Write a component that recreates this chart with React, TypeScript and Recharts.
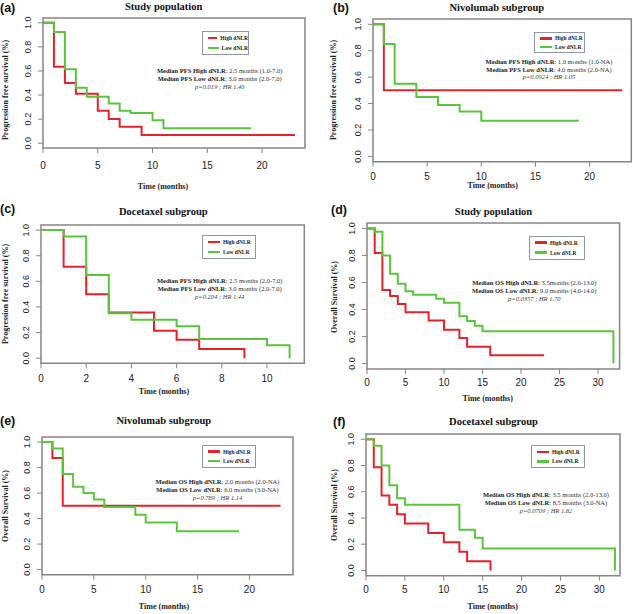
import React from "react";
import { Legend, Line, LineChart, ReferenceArea, XAxis, YAxis } from "recharts";

const RED = "#e2232c";
const GREEN = "#5cc43f";
const BOX = "#858585";
const SERIF = "'Liberation Serif', 'Times New Roman', serif";
const SANS = "'Liberation Sans', Arial, sans-serif";

// (a) PFS, study population
const pfsAllHighTime = [0, 1, 2, 3, 5, 6, 7, 9, 23];
const pfsAllHighSurv = [1, 0.636, 0.5, 0.41, 0.27, 0.2, 0.136, 0.068, 0.068];
const pfsAllLowTime = [0, 1, 2, 3, 4, 6, 7, 8, 10, 11, 19];
const pfsAllLowSurv = [1, 0.923, 0.615, 0.46, 0.385, 0.33, 0.27, 0.25, 0.19, 0.125, 0.125];

// (b) PFS, nivolumab
const pfsNivoHighTime = [0, 1, 23];
const pfsNivoHighSurv = [1, 0.5, 0.5];
const pfsNivoLowTime = [0, 1, 2, 4, 6, 8, 10, 19];
const pfsNivoLowSurv = [1, 0.85, 0.55, 0.45, 0.39, 0.34, 0.27, 0.27];

// (c) PFS, docetaxel
const pfsDoceHighTime = [0, 1, 2, 3, 5, 6, 7, 9];
const pfsDoceHighSurv = [1, 0.714, 0.5, 0.357, 0.214, 0.143, 0.071, 0];
const pfsDoceLowTime = [0, 1, 2, 3, 4, 6, 7, 10, 11];
const pfsDoceLowSurv = [1, 0.95, 0.65, 0.35, 0.3, 0.25, 0.15, 0.1, 0];

// (d) OS, study population
const osAllHighTime = [0, 1, 2, 3, 4, 5, 8, 10, 12, 13, 16, 23];
const osAllHighSurv = [1, 0.818, 0.545, 0.5, 0.44, 0.38, 0.318, 0.25, 0.19, 0.125, 0.0625, 0.0625];
const osAllLowTime = [0, 1, 2, 3, 4, 5, 6, 9, 10, 12, 13, 14, 15, 32];
const osAllLowSurv = [1, 0.975, 0.8, 0.665, 0.59, 0.535, 0.51, 0.48, 0.45, 0.35, 0.315, 0.28, 0.24, 0];

// (e) OS, nivolumab
const osNivoHighTime = [0, 1, 2, 23];
const osNivoHighSurv = [1, 0.875, 0.5, 0.5];
const osNivoLowTime = [0, 1, 2, 3, 4, 5, 6, 9, 10, 13, 19];
const osNivoLowSurv = [1, 0.95, 0.75, 0.65, 0.6, 0.55, 0.49, 0.43, 0.37, 0.3, 0.3];

// (f) OS, docetaxel
const osDoceHighTime = [0, 1, 2, 3, 4, 5, 8, 10, 12, 13, 16];
const osDoceHighSurv = [1, 0.786, 0.571, 0.5, 0.429, 0.357, 0.286, 0.214, 0.143, 0.071, 0];
const osDoceLowTime = [0, 1, 2, 3, 4, 5, 12, 14, 15, 32];
const osDoceLowSurv = [1, 0.95, 0.8, 0.65, 0.55, 0.5, 0.31, 0.25, 0.167, 0];

const yTicks = [0, 0.2, 0.4, 0.6, 0.8, 1.0];
const xTicks20 = [0, 5, 10, 15, 20];
const xTicks10 = [0, 2, 4, 6, 8, 10];
const xTicks30 = [0, 5, 10, 15, 20, 25, 30];

const seriesNames = ["High dNLR", "Low dNLR"];

const toPoints = (t: number[], s: number[]) => t.map((x, i) => ({ t: x, s: s[i] }));

type PanelDef = {
  letter: string;
  title: string;
  kind: string;
  yLabel: string;
  high: { t: number; s: number }[];
  low: { t: number; s: number }[];
  xTicks: number[];
  xMax: number;
  notes: string[];
  box: number[]; // left, top, right, bottom
  xTickGap: number;
  legend: number[]; // x, y, w, h
  note: number[]; // cx, first line y, spacing
  titlePos: number[];
  letterPos: number[];
  xLabelPos: number[];
  yLabelPos: number[];
};

const PFS = "Progression free survival (%)";
const OS = "Overall Survival (%)";

const panels: PanelDef[] = [
  {
    letter: "(a)", title: "Study population", kind: "PFS", yLabel: PFS,
    high: toPoints(pfsAllHighTime, pfsAllHighSurv), low: toPoints(pfsAllLowTime, pfsAllLowSurv),
    xTicks: xTicks20, xMax: 23.92,
    notes: ["2.5 months (1.0-7.0)", "3.0 months (2.0-7.0)", "p=0.019 ; HR 1.40"],
    box: [43, 18, 305, 148], xTickGap: 9, legend: [202, 31, 47, 24], note: [219.7, 71, 8],
    titlePos: [163.7, 6.5], letterPos: [0, 7.5], xLabelPos: [163, 187], yLabelPos: [5.5, 90],
  },
  {
    letter: "(b)", title: "Nivolumab subgroup", kind: "PFS", yLabel: PFS,
    high: toPoints(pfsNivoHighTime, pfsNivoHighSurv), low: toPoints(pfsNivoLowTime, pfsNivoLowSurv),
    xTicks: xTicks20, xMax: 23.85,
    notes: ["1.0 months (1.0-NA)", "4.0 months (2.0-NA)", "p=0.0924 ; HR 1.05"],
    box: [372.7, 19, 631, 161.7], xTickGap: 6, legend: [534, 32, 51, 21], note: [549, 62, 7.5],
    titlePos: [496.8, 7.5], letterPos: [333, 7.5], xLabelPos: [492.7, 186], yLabelPos: [334, 90],
  },
  {
    letter: "(c)", title: "Docetaxel subgroup", kind: "PFS", yLabel: PFS,
    high: toPoints(pfsDoceHighTime, pfsDoceHighSurv), low: toPoints(pfsDoceLowTime, pfsDoceLowSurv),
    xTicks: xTicks10, xMax: 11.65,
    notes: ["2.5 months (2.0-7.0)", "3.0 months (2.0-7.0)", "p=0.204 ; HR 1.44"],
    box: [40.7, 225, 304, 363.3], xTickGap: 7, legend: [202, 235, 54, 24], note: [219.7, 280.7, 8],
    titlePos: [163.3, 212], letterPos: [0, 209], xLabelPos: [164, 391.7], yLabelPos: [5.5, 294],
  },
  {
    letter: "(d)", title: "Study population", kind: "OS", yLabel: OS,
    high: toPoints(osAllHighTime, osAllHighSurv), low: toPoints(osAllLowTime, osAllLowSurv),
    xTicks: xTicks30, xMax: 32.8,
    notes: ["3.5months (2.0-13.0)", "9.0 months (4.0-14.0)", "p=0.0357 ; HR 1.70"],
    box: [366.7, 223.3, 619.3, 369.3], xTickGap: 5, legend: [529, 235.7, 56, 24], note: [534.3, 283.3, 7.8],
    titlePos: [493.5, 212], letterPos: [331, 210], xLabelPos: [487.7, 399], yLabelPos: [335, 296.7],
  },
  {
    letter: "(e)", title: "Nivolumab subgroup", kind: "OS", yLabel: OS,
    high: toPoints(osNivoHighTime, osNivoHighSurv), low: toPoints(osNivoLowTime, osNivoLowSurv),
    xTicks: xTicks20, xMax: 24.2,
    notes: ["2.0 months (2.0-NA)", "6.0 months (3.0-NA)", "p=0.789 ; HR 1.14"],
    box: [42.3, 437.3, 293.3, 575], xTickGap: 6, legend: [202, 445, 54, 23], note: [217.5, 482.3, 7.7],
    titlePos: [163.8, 421], letterPos: [0, 421], xLabelPos: [164, 607.3], yLabelPos: [5.5, 506],
  },
  {
    letter: "(f)", title: "Docetaxel subgroup", kind: "OS", yLabel: OS,
    high: toPoints(osDoceHighTime, osDoceHighSurv), low: toPoints(osDoceLowTime, osDoceLowSurv),
    xTicks: xTicks30, xMax: 32.65,
    notes: ["3.5 months (2.0-13.0)", "8.5 months (3.0-NA)", "p=0.0709 ; HR 1.82"],
    box: [366, 434, 620, 575.7], xTickGap: 5, legend: [531, 445, 54, 23], note: [546, 495, 7.8],
    titlePos: [493.5, 421.5], letterPos: [333, 421.5], xLabelPos: [492.7, 607], yLabelPos: [335, 505],
  },
];

const Y_AXIS_W = 30;
const X_AXIS_H = 30;
const PAD = 2;

function YTick(props: any) {
  const { x, y, payload } = props;
  return (
    <text x={x} y={y} transform={`rotate(-90 ${x} ${y})`} textAnchor="middle" fontSize={9} fill="#222" fontFamily={SANS}>
      {Number(payload.value).toFixed(1)}
    </text>
  );
}

function LegendBox({ w, h }: { w: number; h: number }) {
  const rows = [
    { name: seriesNames[0], color: RED },
    { name: seriesNames[1], color: GREEN },
  ];
  return (
    <div style={{ width: w, height: h, boxSizing: "border-box", border: "1px solid #8d97a8", background: "#fff", display: "flex", flexDirection: "column", justifyContent: "space-around", padding: "1px 0 1px 5px" }}>
      {rows.map((r) => (
        <div key={r.name} style={{ display: "flex", alignItems: "center", height: 8 }}>
          <div style={{ width: 12, height: 2.5, background: r.color, marginRight: 3 }} />
          <span style={{ fontFamily: SERIF, fontWeight: "bold", fontSize: 5.5, color: "#222", whiteSpace: "nowrap" }}>{r.name}</span>
        </div>
      ))}
    </div>
  );
}

function Centered({ x, y, children, style }: { x: number; y: number; children: React.ReactNode; style?: React.CSSProperties }) {
  return (
    <div style={{ position: "absolute", left: x, top: y, transform: "translate(-50%, -50%)", whiteSpace: "nowrap", lineHeight: 1, ...style }}>
      {children}
    </div>
  );
}

function KMPanel({ p }: { p: PanelDef }) {
  const [L, T, R, B] = p.box;
  const left = L - Y_AXIS_W;
  const top = T - PAD;
  const width = Y_AXIS_W + (R - L) + PAD;
  const height = PAD + (B - T) + X_AXIS_H;
  const [lx, ly, lw, lh] = p.legend;
  const [nx, ny, ns] = p.note;
  return (
    <>
      <div style={{ position: "absolute", left, top }}>
        <LineChart width={width} height={height} margin={{ top: PAD, right: PAD, left: 0, bottom: 0 }}>
          <XAxis
            type="number"
            dataKey="t"
            domain={[0, p.xMax]}
            ticks={p.xTicks}
            allowDataOverflow
            axisLine={false}
            tickLine={{ stroke: BOX }}
            tickSize={5}
            tickMargin={p.xTickGap}
            height={X_AXIS_H}
            tick={{ fontSize: 10, fill: "#222", fontFamily: SANS }}
            interval={0}
          />
          <YAxis
            type="number"
            dataKey="s"
            domain={[-0.04, 1.04]}
            ticks={yTicks}
            allowDataOverflow
            axisLine={false}
            tickLine={{ stroke: BOX }}
            tickSize={5}
            tickMargin={7}
            width={Y_AXIS_W}
            tick={<YTick />}
            interval={0}
          />
          <ReferenceArea x1={0} x2={p.xMax} y1={-0.04} y2={1.04} fill="none" fillOpacity={0} stroke={BOX} strokeWidth={1.5} ifOverflow="visible" />
          <Line data={p.high} dataKey="s" name={seriesNames[0]} type="stepAfter" stroke={RED} strokeWidth={2} dot={false} isAnimationActive={false} />
          <Line data={p.low} dataKey="s" name={seriesNames[1]} type="stepAfter" stroke={GREEN} strokeWidth={2} dot={false} isAnimationActive={false} />
          <Legend
            layout="horizontal"
            verticalAlign="middle"
            align="center"
            wrapperStyle={{ left: lx - left, top: ly - top, width: lw, height: lh }}
            content={() => <LegendBox w={lw} h={lh} />}
          />
        </LineChart>
      </div>
      <Centered x={p.titlePos[0]} y={p.titlePos[1]} style={{ fontFamily: SERIF, fontWeight: "bold", fontSize: 10.5, color: "#111" }}>
        {p.title}
      </Centered>
      <div style={{ position: "absolute", left: p.letterPos[0], top: p.letterPos[1], transform: "translateY(-50%)", fontFamily: SANS, fontWeight: "bold", fontSize: 12.5, lineHeight: 1, color: "#111" }}>
        {p.letter}
      </div>
      <Centered x={p.xLabelPos[0]} y={p.xLabelPos[1]} style={{ fontFamily: SERIF, fontWeight: "bold", fontSize: 8, color: "#222" }}>
        Time (months)
      </Centered>
      <Centered x={p.yLabelPos[0]} y={p.yLabelPos[1]} style={{ fontFamily: SERIF, fontWeight: "bold", fontSize: 8, color: "#222", transform: "translate(-50%, -50%) rotate(-90deg)" }}>
        {p.yLabel}
      </Centered>
      {[0, 1].map((i) => (
        <Centered key={i} x={nx} y={ny + i * ns} style={{ fontFamily: SERIF, fontSize: 6.5, color: "#333" }}>
          <b style={{ color: "#222" }}>{`Median ${p.kind} ${seriesNames[i]}`}</b>: {p.notes[i]}
        </Centered>
      ))}
      <Centered x={nx} y={ny + 2 * ns} style={{ fontFamily: SERIF, fontSize: 6.5, fontStyle: "italic", color: "#444" }}>
        {p.notes[2]}
      </Centered>
    </>
  );
}

export default function App() {
  return (
    <div style={{ position: "absolute", left: 0, top: 0, width: 633, height: 614, background: "#fff", overflow: "hidden" }}>
      {panels.map((p) => (
        <KMPanel key={p.letter} p={p} />
      ))}
    </div>
  );
}
